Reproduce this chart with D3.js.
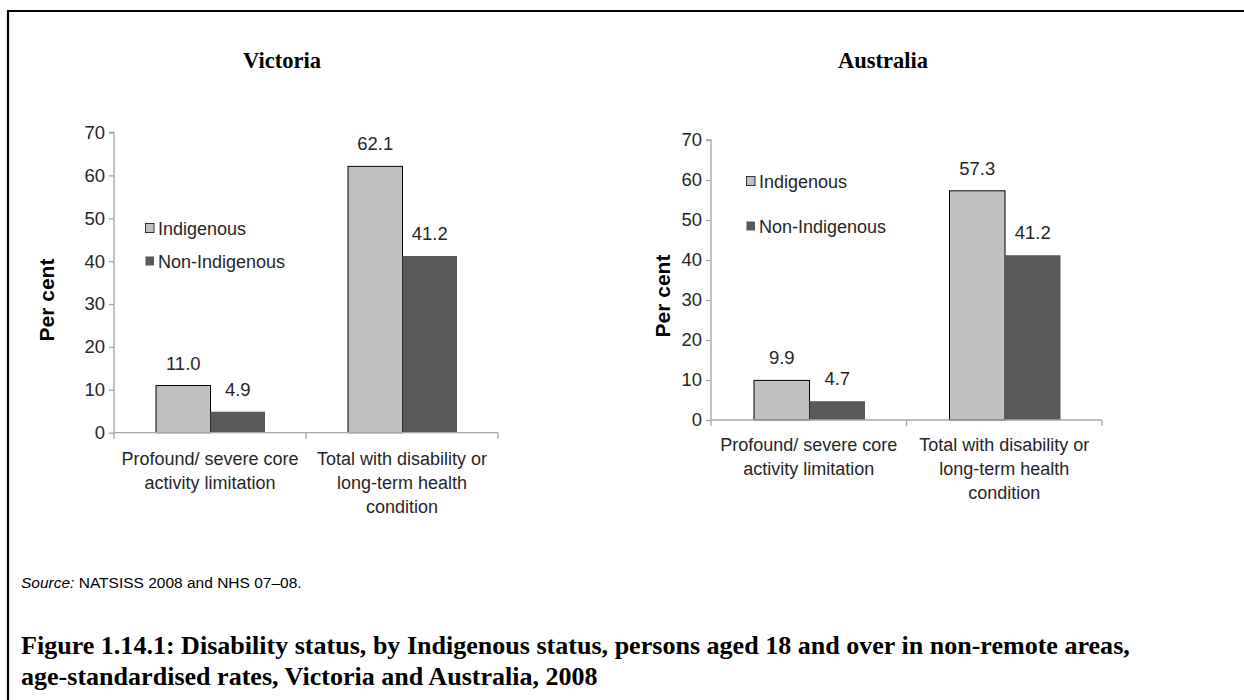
<!DOCTYPE html>
<html>
<head>
<meta charset="utf-8">
<script src="https://cdn.jsdelivr.net/npm/d3@7"></script>
<style>
  html, body { margin: 0; padding: 0; background: #fff; }
  svg { display: block; }
</style>
</head>
<body>
<svg id="chart" width="1244" height="700"></svg>
<script>
// ---- data ----
const categories = [
  ["Profound/ severe core", "activity limitation"],
  ["Total with disability or", "long-term health", "condition"]
];
const categoryKeys = ["Profound/ severe core activity limitation", "Total with disability or long-term health condition"];
const series = ["Indigenous", "Non-Indigenous"];
const victoriaIndigenous = [11.0, 62.1];
const victoriaNonIndigenous = [4.9, 41.2];
const australiaIndigenous = [9.9, 57.3];
const australiaNonIndigenous = [4.7, 41.2];
const yTicks = [0, 10, 20, 30, 40, 50, 60, 70];
const panelTitles = ["Victoria", "Australia"];
const yAxisTitle = "Per cent";
const sourceLabel = "Source:";
const sourceText = " NATSISS 2008 and NHS 07\u201308.";
const captionLines = [
  "Figure 1.14.1: Disability status, by Indigenous status, persons aged 18 and over in non-remote areas,",
  "age-standardised rates, Victoria and Australia, 2008"
];

const colors = { "Indigenous": "#c0c0c0", "Non-Indigenous": "#595959" };
const sans = "'Liberation Sans', Arial, sans-serif";
const serif = "'Liberation Serif', 'Times New Roman', serif";
const textColor = "#262626";
const axisColor = "#a6a6a6";

const svg = d3.select("#chart");

// frame lines (top and left)
svg.append("line").attr("x1", 8).attr("x2", 1244).attr("y1", 11).attr("y2", 11)
  .attr("stroke", "#000").attr("stroke-width", 2.2);
svg.append("line").attr("x1", 8).attr("x2", 8).attr("y1", 10).attr("y2", 700)
  .attr("stroke", "#000").attr("stroke-width", 2.2);

const panels = [
  { title: panelTitles[0], values: [victoriaIndigenous, victoriaNonIndigenous],
    x0: 114, x1: 498, yTop: 132.5, yBottom: 432.7, barPad: [42, 151],
    titleX: 282, titleY: 61, legendX: 145, legendY: [228, 261], yLabelX: 47, yLabelY: 300, catY: 465 },
  { title: panelTitles[1], values: [australiaIndigenous, australiaNonIndigenous],
    x0: 711, x1: 1102, yTop: 140, yBottom: 420, barPad: [43, 154],
    titleX: 883, titleY: 61, legendX: 746, legendY: [181, 226], yLabelX: 663, yLabelY: 296, catY: 451 }
];

panels.forEach(p => {
  const g = svg.append("g");
  const x = d3.scaleBand().domain(categoryKeys).range([p.x0, p.x1]).paddingInner(0).paddingOuter(0);
  const xs = d3.scaleBand().domain(series).range(p.barPad);
  const y = d3.scaleLinear().domain([0, 70]).range([p.yBottom, p.yTop]);

  // title
  g.append("text").attr("x", p.titleX).attr("y", p.titleY + 7)
    .attr("text-anchor", "middle").attr("font-family", serif).attr("font-weight", "bold")
    .attr("font-size", 22.5).attr("fill", "#000").text(p.title);

  // y axis
  const yAxis = d3.axisLeft(y).tickValues(yTicks).tickFormat(d3.format("d")).tickSize(5).tickPadding(4);
  const ya = g.append("g").attr("transform", `translate(${p.x0},0)`).call(yAxis);
  ya.select(".domain").attr("stroke", axisColor).attr("stroke-width", 1.3).attr("d", `M-5,${p.yTop}H0V${p.yBottom}`);
  ya.selectAll(".tick line").attr("stroke", axisColor).attr("stroke-width", 1.3);
  ya.selectAll(".tick text").attr("font-family", sans).attr("font-size", 18.5).attr("fill", textColor);

  // y axis title
  g.append("text").attr("transform", `translate(${p.yLabelX + 7},${p.yLabelY}) rotate(-90)`)
    .attr("text-anchor", "middle").attr("font-family", sans).attr("font-weight", "bold")
    .attr("font-size", 21).attr("fill", "#000").text(yAxisTitle);

  // bars
  series.forEach((s, si) => {
    g.selectAll(null).data(p.values[si]).enter().append("rect")
      .attr("x", (d, i) => x(categoryKeys[i]) + xs(s))
      .attr("y", d => y(d))
      .attr("width", xs.bandwidth())
      .attr("height", d => y(0) - y(d))
      .attr("fill", colors[s])
      .attr("stroke", si === 0 ? "#000" : "none")
      .attr("stroke-width", 1);
    g.selectAll(null).data(p.values[si]).enter().append("text")
      .attr("x", (d, i) => x(categoryKeys[i]) + xs(s) + xs.bandwidth() / 2)
      .attr("y", d => y(d) - 16)
      .attr("text-anchor", "middle").attr("font-family", sans).attr("font-size", 18.5)
      .attr("fill", textColor).text(d => d3.format(".1f")(d));
  });

  // x axis line + boundary ticks
  const bounds = [p.x0].concat(categoryKeys.map(c => x(c) + x.bandwidth()));
  g.append("line").attr("x1", p.x0).attr("x2", p.x1).attr("y1", y(0)).attr("y2", y(0))
    .attr("stroke", axisColor).attr("stroke-width", 1.3);
  g.selectAll(null).data(bounds).enter().append("line")
    .attr("x1", d => d).attr("x2", d => d).attr("y1", y(0)).attr("y2", y(0) + 6)
    .attr("stroke", axisColor).attr("stroke-width", 1.3);

  // category labels
  categoryKeys.forEach((c, i) => {
    const t = g.append("text").attr("text-anchor", "middle").attr("font-family", sans)
      .attr("font-size", 18).attr("fill", textColor);
    categories[i].forEach((line, li) => {
      t.append("tspan").attr("x", x(c) + x.bandwidth() / 2).attr("y", p.catY + li * 24).text(line);
    });
  });

  // legend
  series.forEach((s, si) => {
    g.append("rect").attr("x", p.legendX + 0.5).attr("y", p.legendY[si] - 4.5)
      .attr("width", 8.5).attr("height", 9).attr("fill", colors[s])
      .attr("stroke", si === 0 ? "#333" : "none").attr("stroke-width", 1);
    g.append("text").attr("x", p.legendX + 13).attr("y", p.legendY[si] + 6.5)
      .attr("font-family", sans).attr("font-size", 18).attr("fill", textColor).text(s);
  });
});

// source
const src = svg.append("text").attr("x", 21).attr("y", 588).attr("font-family", sans)
  .attr("font-size", 15.5).attr("fill", "#000");
src.append("tspan").attr("font-style", "italic").text(sourceLabel);
src.append("tspan").text(sourceText);

// caption
const cap = svg.append("g");
captionLines.forEach((line, i) => {
  cap.append("text").attr("x", 21).attr("y", 654 + i * 31)
    .attr("font-family", serif).attr("font-weight", "bold").attr("font-size", 21)
    .attr("fill", "#000").text(line);
});
// fit caption font size so line 1 spans the reference width
const first = cap.select("text").node();
const w = first.getComputedTextLength();
const fs = 21 * 1109 / w;
cap.selectAll("text").attr("font-size", fs);
</script>
</body>
</html>
